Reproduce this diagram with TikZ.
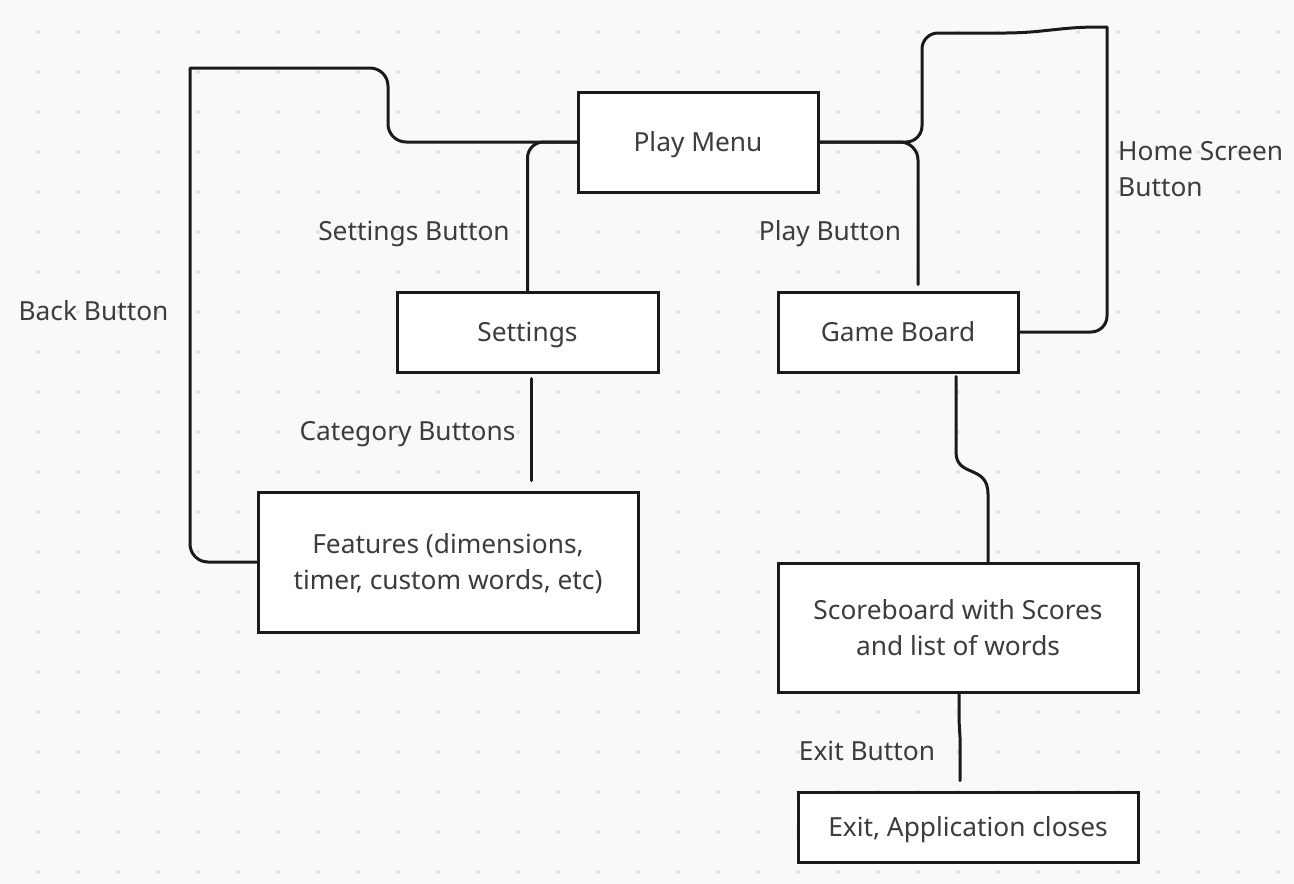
\documentclass[tikz,border=0pt]{standalone}
\usepackage{fontspec}
\setmainfont{Noto Sans}
\usetikzlibrary{calc}
\definecolor{bgc}{HTML}{F9F9FB}
\definecolor{dotc}{HTML}{E2E2E6}
\definecolor{linec}{HTML}{1A1A1A}
\definecolor{txtc}{HTML}{3C3C3C}
\begin{document}
\begin{tikzpicture}[x=1pt,y=-1pt,
  box/.style={draw=linec, line width=3pt, fill=white, inner sep=0pt, text=txtc,
    font=\fontsize{26.3}{36}\selectfont, text height=19pt, text depth=0pt, align=center},
  twoline/.style={text height=55pt, text depth=0pt},
  conn/.style={draw=linec, line width=3pt, line cap=round, line join=round},
  lbl/.style={text=txtc, font=\fontsize{26.3}{36}\selectfont, inner sep=0pt, anchor=base}]
% background
\fill[bgc] (0,0) rectangle (1294,884);
\useasboundingbox (0,0) rectangle (1294,884);
\foreach \i in {0,...,31} {
  \foreach \j in {0,...,21} {
    \fill[dotc] ({38+40*\i},{32+40*\j}) circle (2pt);
  }
}
% boxes
\node[box, minimum width=240pt, minimum height=100pt] (pm) at (698,142) {Play Menu};
\node[box, minimum width=261pt, minimum height=80pt] (set) at (527.5,332) {Settings};
\node[box, minimum width=240pt, minimum height=80pt] (gb) at (898,332) {Game Board};
\node[box, twoline, minimum width=380pt, minimum height=140pt] (feat) at (448,562) {Features (dimensions,\\timer, custom words, etc)};
\node[box, twoline, minimum width=360pt, minimum height=129pt] (sb) at (958,627.5) {Scoreboard with Scores\\and list of words};
\node[box, minimum width=340pt, minimum height=70pt] (ex) at (968,827) {Exit, Application closes};
% labels
\node[lbl] (lset) at (414,240.5) {Settings Button};
\node[lbl] (lplay) at (830,240.5) {Play Button};
\node[lbl] (lcat) at (407.5,440.5) {Category Buttons};
\node[lbl] (lback) at (93.5,320.5) {Back Button};
\node[lbl, anchor=north west, align=left, text height=55pt, text depth=0pt] (lhome) at (1118,141.5) {Home Screen\\Button};
\node[lbl] (lexit) at (867,760.5) {Exit Button};
% connectors
\draw[conn, rounded corners=18pt] (feat.west) -- (190,562) [sharp corners] -- (190,68) [rounded corners=18pt] -- (388,68) -- (388,142) -- (pm.west);
\draw[conn, rounded corners=16pt] (pm.west) -| (set.north);
\draw[conn] ($(set.south)+(4,5)$) -- ($(feat.north)+(83.5,-10)$);
\draw[conn, rounded corners=18pt] (pm.east) -| ($(gb.north)+(20,-6)$);
\draw[conn, rounded corners=16pt] (pm.east) -- (922,142) -- (922,33) -- (1022,33) -- (1080,27) [sharp corners] -- (1107,27) [rounded corners=16pt] -- (1107,332) -- (gb.east);
\draw[conn] ($(gb.south)+(58,3)$) -- (956,452) .. controls (956,478) and (988,464) .. (988,494) -- (sb.north -| 988,0);
\draw[conn] ($(sb.south)+(1,0)$) -- (959,720) -- (960,737) -- ($(ex.north)+(-8,-10)$);
\end{tikzpicture}
\end{document}
